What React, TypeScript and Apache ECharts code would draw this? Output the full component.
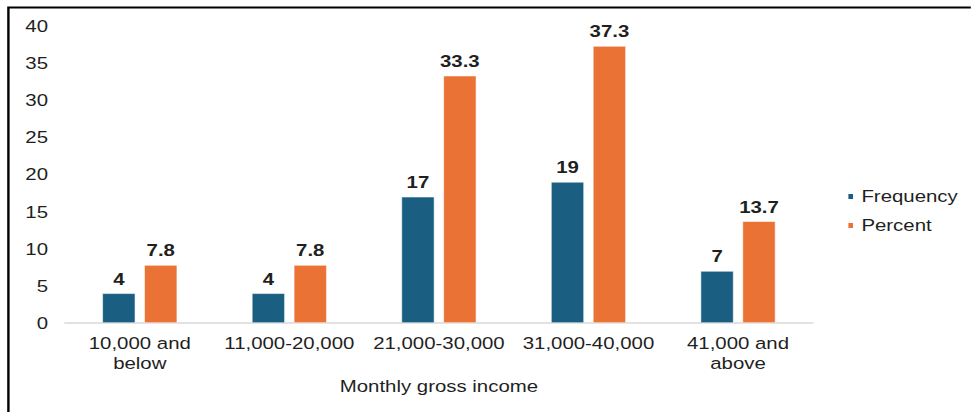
import React, { useEffect, useRef } from "react";
import * as echarts from "echarts";

const categories = [
  "10,000 and\nbelow",
  "11,000-20,000",
  "21,000-30,000",
  "31,000-40,000",
  "41,000 and\nabove",
];
const frequency = [4, 4, 17, 19, 7];
const percent = [7.8, 7.8, 33.3, 37.3, 13.7];

const FONT = "'Liberation Sans', Arial, sans-serif";
const TEXT = "#1f1f1f";

// The chart is drawn on a narrower canvas and widened with a CSS scaleX,
// which gives the broad, stretched lettering of the original figure.
const STRETCH = 1.2;
const OUT_W = 971;
const OUT_H = 412;
const IN_W = OUT_W / STRETCH;
const sx = (x: number) => x / STRETCH;

export default function App() {
  const ref = useRef<HTMLDivElement>(null);

  useEffect(() => {
    if (!ref.current) return;
    const chart = echarts.init(ref.current, null, { renderer: "svg" });
    const labelStyle = {
      show: true,
      position: "top" as const,
      distance: 6,
      fontFamily: FONT,
      fontSize: 17,
      fontWeight: "bold" as const,
      color: TEXT,
    };
    chart.setOption({
      animation: false,
      backgroundColor: "#ffffff",
      textStyle: { fontFamily: FONT },
      graphic: [
        {
          type: "rect",
          shape: { x: sx(8.4), y: 7.5, width: 1100, height: 600 },
          style: { fill: "none", stroke: "#000", lineWidth: 2 },
          silent: true,
        },
      ],
      grid: { left: sx(65), right: IN_W - sx(813), top: 26, bottom: 89 },
      legend: {
        orient: "vertical",
        left: sx(846),
        top: 188,
        padding: 0,
        itemWidth: sx(7),
        itemHeight: 7,
        itemGap: 12,
        icon: "rect",
        textStyle: {
          fontFamily: FONT,
          fontSize: 17,
          lineHeight: 17,
          color: TEXT,
          padding: [0, 0, 0, 1],
        },
        data: ["Frequency", "Percent"],
      },
      xAxis: {
        type: "category",
        data: categories,
        name: "Monthly gross income",
        nameLocation: "middle",
        nameGap: 55,
        nameTextStyle: { fontFamily: FONT, fontSize: 17, color: TEXT },
        axisLine: { lineStyle: { color: "#d9d9d9", width: 1.5 } },
        axisTick: { show: false },
        axisLabel: {
          fontFamily: FONT,
          fontSize: 17,
          color: TEXT,
          margin: 10,
          lineHeight: 20,
          interval: 0,
        },
      },
      yAxis: {
        type: "value",
        min: 0,
        max: 40,
        interval: 5,
        splitLine: { show: false },
        axisLine: { show: false },
        axisTick: { show: false },
        axisLabel: { fontFamily: FONT, fontSize: 17, color: TEXT, margin: sx(17) },
      },
      series: [
        {
          name: "Frequency",
          type: "bar",
          data: frequency,
          barWidth: sx(33),
          barGap: "27%",
          itemStyle: { color: "#1a5f82", borderColor: "#ffffff", borderWidth: 0.5 },
          label: labelStyle,
        },
        {
          name: "Percent",
          type: "bar",
          data: percent,
          barWidth: sx(33),
          itemStyle: { color: "#e97234", borderColor: "#ffffff", borderWidth: 0.5 },
          label: labelStyle,
        },
      ],
    });
    return () => chart.dispose();
  }, []);

  return (
    <div
      style={{
        position: "absolute",
        left: 0,
        top: 0,
        width: OUT_W,
        height: OUT_H,
        overflow: "hidden",
        background: "#fff",
      }}
    >
      <div
        ref={ref}
        style={{
          width: IN_W,
          height: OUT_H,
          transform: `scaleX(${STRETCH})`,
          transformOrigin: "0 0",
        }}
      />
    </div>
  );
}
